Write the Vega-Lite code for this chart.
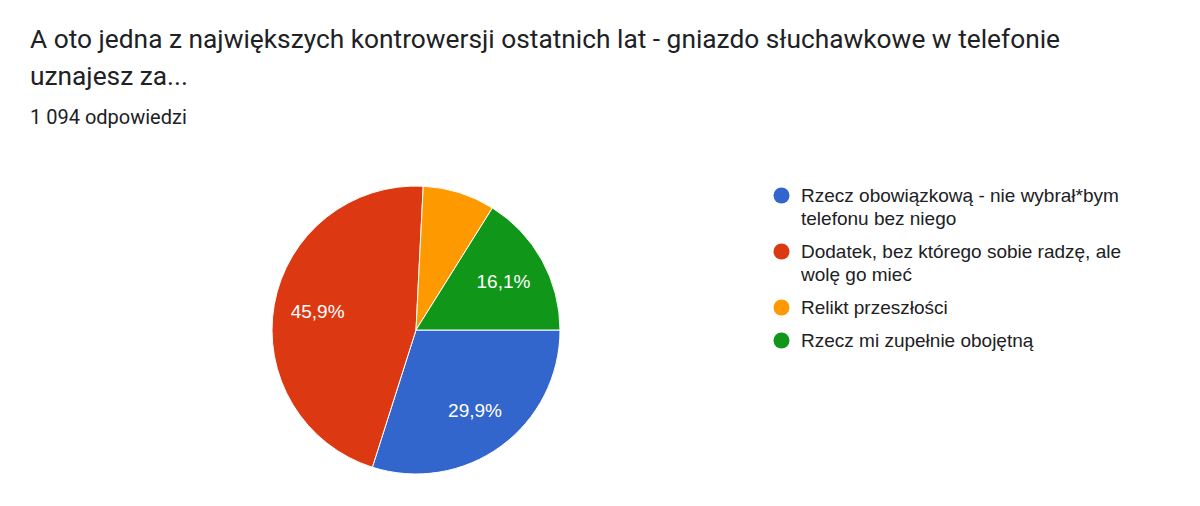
{
  "$schema": "https://vega.github.io/schema/vega-lite/v6.json",
  "autosize": "none",
  "width": 832,
  "height": 380,
  "padding": {"left": 0, "top": 140, "right": 368, "bottom": -14},
  "background": "white",
  "title": {
    "text": ["A oto jedna z największych kontrowersji ostatnich lat - gniazdo słuchawkowe w telefonie", "uznajesz za..."],
    "subtitle": "1 094 odpowiedzi",
    "anchor": "start",
    "frame": "group",
    "dx": 30,
    "offset": 12,
    "font": "Roboto",
    "fontSize": 26.3,
    "fontWeight": "normal",
    "color": "#202124",
    "lineHeight": 37,
    "subtitleFont": "Roboto",
    "subtitleFontSize": 20,
    "subtitleColor": "#202124",
    "subtitlePadding": 18
  },
  "data": {
    "values": [
      {"nr": 1, "odpowiedz": "Rzecz obowiązkową - nie wybrał*bym\ntelefonu bez niego", "procent": 29.9, "etykieta": "29,9%"},
      {"nr": 2, "odpowiedz": "Dodatek, bez którego sobie radzę, ale\nwolę go mieć", "procent": 45.9, "etykieta": "45,9%"},
      {"nr": 3, "odpowiedz": "Relikt przeszłości", "procent": 8.1, "etykieta": ""},
      {"nr": 4, "odpowiedz": "Rzecz mi zupełnie obojętną", "procent": 16.1, "etykieta": "16,1%"}
    ]
  },
  "encoding": {
    "theta": {
      "field": "procent",
      "type": "quantitative",
      "stack": true,
      "scale": {"range": [1.5708, 7.854]}
    },
    "order": {"field": "nr", "type": "quantitative", "sort": "ascending"},
    "color": {
      "field": "odpowiedz",
      "type": "nominal",
      "sort": null,
      "scale": {
        "domain": [
          "Rzecz obowiązkową - nie wybrał*bym\ntelefonu bez niego",
          "Dodatek, bez którego sobie radzę, ale\nwolę go mieć",
          "Relikt przeszłości",
          "Rzecz mi zupełnie obojętną"
        ],
        "range": ["#3366cc", "#dc3912", "#ff9900", "#109618"]
      },
      "legend": {
        "title": null,
        "orient": "none",
        "legendX": 772,
        "legendY": 46,
        "symbolType": "circle",
        "symbolSize": 256,
        "symbolStrokeWidth": 0,
        "labelFont": "Liberation Sans",
        "labelFontSize": 19,
        "labelColor": "#202124",
        "labelOffset": 10,
        "labelLimit": 400,
        "rowPadding": 13,
        "labelExpr": "split(datum.label, '\\n')"
      }
    }
  },
  "layer": [
    {
      "mark": {"type": "arc", "outerRadius": 144, "stroke": "white", "strokeWidth": 1}
    },
    {
      "mark": {"type": "text", "radius": 100, "font": "Liberation Sans", "fontSize": 19, "color": "white"},
      "encoding": {
        "text": {"field": "etykieta", "type": "nominal"},
        "color": {"value": "white"}
      }
    }
  ],
  "config": {
    "view": {"stroke": null},
    "style": {"guide-label": {"lineHeight": 23}}
  }
}
